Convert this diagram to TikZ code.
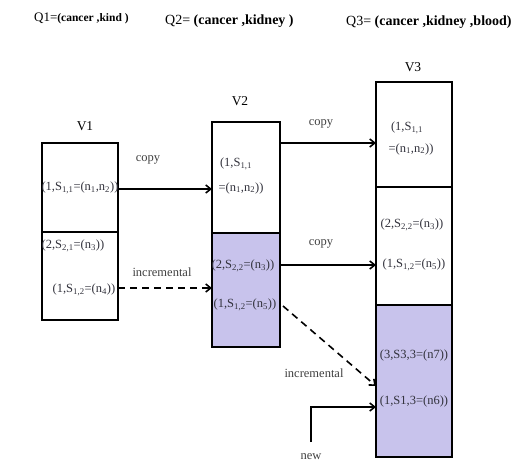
\documentclass[tikz,border=0pt]{standalone}
\usepackage{fontspec}
\setmainfont{Liberation Serif}
\usetikzlibrary{arrows.meta}
\definecolor{lav}{RGB}{200,195,236}
\definecolor{txt}{RGB}{50,50,60}
\begin{document}
\begin{tikzpicture}[x=1pt,y=-1pt,
  box/.style={draw=black,line width=1.6pt},
  lab/.style={font=\fontsize{12.5}{13}\selectfont,text=txt,inner sep=0pt},
  elab/.style={font=\fontsize{12.5}{13}\selectfont,text=black!75,inner sep=0pt},
  conn/.style={line width=1.6pt,-{Straight Barb[length=5pt,width=8pt]}},
  dconn/.style={conn,dash pattern=on 7pt off 5pt},
  qlab/.style={inner sep=0pt,anchor=west},
  vlab/.style={font=\fontsize{13.5}{14}\selectfont,inner sep=0pt}]
\useasboundingbox (0,0) rectangle (512,463);
% titles
\node[qlab,font=\fontsize{13}{14}\selectfont] (q1) at (34,18) {Q1=\textbf{\fontsize{11.5}{12}\selectfont(cancer ,kind )}};
\node[qlab,font=\fontsize{14}{15}\selectfont] (q2) at (165,21) {Q2= \textbf{(cancer ,kidney )}};
\node[qlab,font=\fontsize{14}{15}\selectfont] (q3) at (346,22) {Q3= \textbf{(cancer ,kidney ,blood)}};
% V1
\node[vlab] (v1) at (85,126) {V1};
\draw[box] (42,143) rectangle (118,232);
\draw[box] (42,232) rectangle (118,320);
\coordinate (v1a) at (118,189);
\coordinate (v1b) at (118,288);
\node[lab] (t11) at (80,188) {(1,S\textsubscript{1,1}=(n\textsubscript{1},n\textsubscript{2}))};
\node[lab] (t12) at (73,246) {(2,S\textsubscript{2,1}=(n\textsubscript{3}))};
\node[lab] (t13) at (84,290) {(1,S\textsubscript{1,2}=(n\textsubscript{4}))};
% V2
\node[vlab] (v2) at (240,101) {V2};
\draw[box] (212,122) rectangle (280,233);
\draw[box,fill=lav] (212,233) rectangle (280,347);
\coordinate (v2l1) at (212,189);
\coordinate (v2l2) at (212,288);
\coordinate (v2r1) at (280,143);
\coordinate (v2r2) at (280,265);
\coordinate (v2r3) at (283,306);
\node[lab] (t21) at (236,164) {(1,S\textsubscript{1,1}};
\node[lab] (t22) at (241,188) {=(n\textsubscript{1},n\textsubscript{2}))};
\node[lab] (t23) at (243,266) {(2,S\textsubscript{2,2}=(n\textsubscript{3}))};
\node[lab] (t24) at (245,305) {(1,S\textsubscript{1,2}=(n\textsubscript{5}))};
% V3
\node[vlab] (v3) at (413,67) {V3};
\draw[box] (376,82) rectangle (452,187);
\draw[box] (376,187) rectangle (452,305);
\draw[box,fill=lav] (376,305) rectangle (452,457);
\coordinate (v3l1) at (376,143);
\coordinate (v3l2) at (376,265);
\coordinate (v3l3) at (376,386);
\coordinate (v3l4) at (376,407);
\node[lab] (t31) at (407,128) {(1,S\textsubscript{1,1}};
\node[lab] (t32) at (411,149) {=(n\textsubscript{1},n\textsubscript{2}))};
\node[lab] (t33) at (412,225) {(2,S\textsubscript{2,2}=(n\textsubscript{3}))};
\node[lab] (t34) at (414,265) {(1,S\textsubscript{1,2}=(n\textsubscript{5}))};
\node[lab] (t35) at (414,355) {(3,S3,3=(n7))};
\node[lab] (t36) at (414,401) {(1,S1,3=(n6))};
% connectors
\draw[conn] (v1a) -- (v2l1);
\node[elab] (c1) at (148,160) {copy};
\draw[dconn] (v1b) -- (v2l2);
\node[elab] (i1) at (162,272) {incremental};
\draw[conn] (v2r1) -- (v3l1);
\node[elab] (c2) at (321,124) {copy};
\draw[conn] (v2r2) -- (v3l2);
\node[elab] (c3) at (321,244) {copy};
\draw[dconn] (v2r3) -- (v3l3);
\node[elab] (i2) at (314,373) {incremental};
\coordinate (nw) at (311,442);
\draw[conn] (nw) |- (v3l4);
\node[elab] (n1) at (311,457) {new};
\end{tikzpicture}
\end{document}
